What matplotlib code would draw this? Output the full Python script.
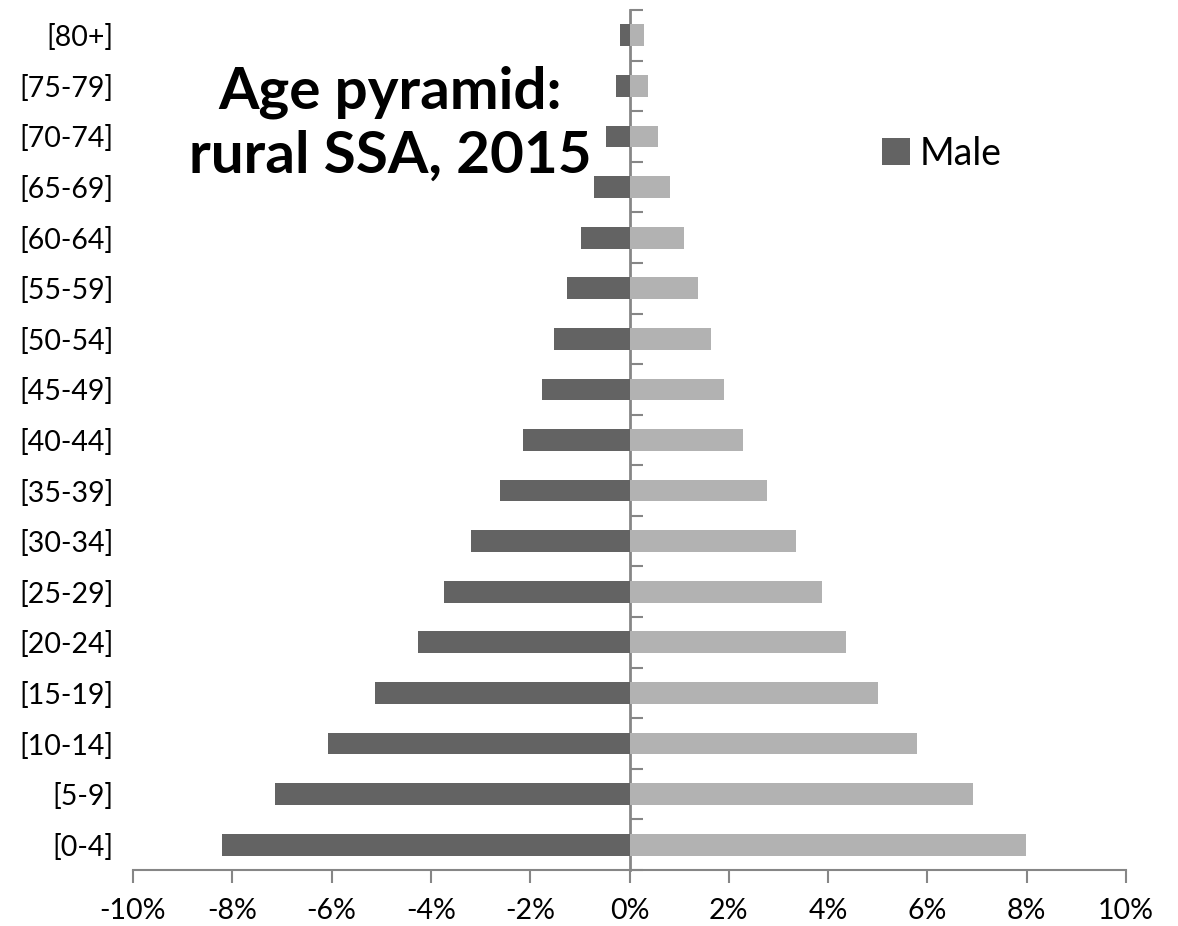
import matplotlib.pyplot as plt
import numpy as np

age_groups = ["[0-4]", "[5-9]", "[10-14]", "[15-19]", "[20-24]", "[25-29]",
              "[30-34]", "[35-39]", "[40-44]", "[45-49]", "[50-54]", "[55-59]",
              "[60-64]", "[65-69]", "[70-74]", "[75-79]", "[80+]"]
male = [-8.21, -7.14, -6.08, -5.13, -4.27, -3.73, -3.19, -2.61, -2.15, -1.77,
        -1.53, -1.25, -0.98, -0.72, -0.48, -0.28, -0.19]
female = [7.98, 6.92, 5.79, 5.00, 4.35, 3.87, 3.35, 2.76, 2.28, 1.90,
          1.65, 1.37, 1.09, 0.82, 0.58, 0.37, 0.30]
x_ticks = [-10, -8, -6, -4, -2, 0, 2, 4, 6, 8, 10]

plt.rcParams["font.family"] = ["Lato", "DejaVu Sans"]
axis_grey = "#868686"

fig = plt.figure(figsize=(11.78, 9.26), dpi=100)
ax = fig.add_axes([0.1129, 0.0605, 0.843, 0.9287])

y = np.arange(len(age_groups))
ax.barh(y, male, height=0.43, color="#636363", label="Male")
ax.barh(y, female, height=0.43, color="#b2b2b2", label="_nolegend_")

ax.set_xlim(-10, 10)
ax.set_ylim(-0.5, len(age_groups) - 0.5)

ax.set_xticks(x_ticks)
ax.set_xticklabels([f"{v}%" for v in x_ticks])
ax.set_yticks(y)
ax.set_yticklabels(age_groups)
ax.tick_params(axis="y", length=0, pad=14, labelsize=20.5)
ax.tick_params(axis="x", length=9, width=1.5, color=axis_grey, pad=11,
               labelsize=20.5)

for side in ["left", "right", "top"]:
    ax.spines[side].set_visible(False)
ax.spines["bottom"].set_color(axis_grey)
ax.spines["bottom"].set_linewidth(1.5)

# centre axis with category boundary ticks
sec = ax.secondary_yaxis(0.5)
sec.set_yticks(np.arange(-0.5, len(age_groups), 1.0))
sec.set_yticklabels([])
sec.tick_params(length=9, width=1.5, color=axis_grey)
for sp in sec.spines.values():
    sp.set_color(axis_grey)
    sp.set_linewidth(2)

fig.text(0.331, 0.866, "Age pyramid:\nrural SSA, 2015", ha="center",
         va="center", fontsize=42, fontweight="bold", linespacing=1.25)

leg = ax.legend(loc="upper left", bbox_to_anchor=(0.72, 0.893), frameon=False,
                fontsize=27, handlelength=0.75, handleheight=0.75,
                handletextpad=0.25)

fig.savefig("out.png", dpi=100)
